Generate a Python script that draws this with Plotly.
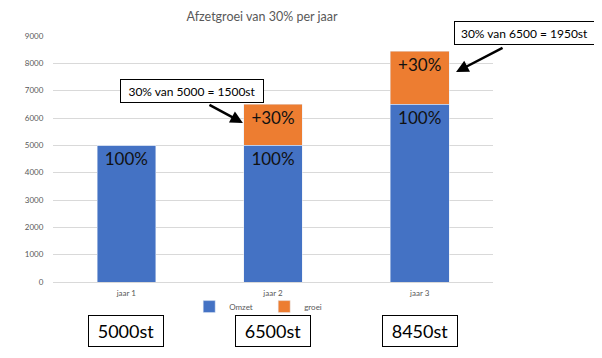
import plotly.graph_objects as go

categories = ["jaar 1", "jaar 2", "jaar 3"]
omzet = [5000, 5000, 6500]
groei = [0, 1500, 1950]
omzet_labels = ["100%", "100%", "100%"]
groei_labels = ["", "+30%", "+30%"]
totals_labels = ["5000st", "6500st", "8450st"]
y_ticks = [0, 1000, 2000, 3000, 4000, 5000, 6000, 7000, 8000, 9000]

BLUE = "#4472C4"
ORANGE = "#ED7D31"
FONT = "Lato"

fig = go.Figure()
fig.add_trace(go.Bar(
    x=categories, y=omzet, name="Omzet", marker_color=BLUE,
    text=omzet_labels, textposition="inside", insidetextanchor="end", textangle=0,
    constraintext="none",
    textfont=dict(family=FONT, size=17, color="#111111"),
))
fig.add_trace(go.Bar(
    x=categories, y=groei, name="groei", marker_color=ORANGE,
    text=groei_labels, textposition="inside", insidetextanchor="end", textangle=0,
    constraintext="none",
    textfont=dict(family=FONT, size=17, color="#111111"),
))

# page body adds an 8px offset; figure occupies 8..602 x 8..358
fig.update_layout(
    barmode="stack",
    bargap=0.6,
    width=594, height=350,
    margin=dict(l=45, r=109, t=28, b=76, autoexpand=False),
    paper_bgcolor="white", plot_bgcolor="white",
    font=dict(family=FONT, color="#595959"),
    title=dict(text="Afzetgroei van 30% per jaar", x=0.475, xref="paper", xanchor="center",
               y=1 - 9 / 350, yref="container", yanchor="middle",
               font=dict(family=FONT, size=12.5, color="#595959")),
    showlegend=True,
    legend=dict(orientation="h", x=0.48, xanchor="center", y=-0.1, yanchor="middle",
                font=dict(family=FONT, size=8, color="#595959"),
                itemwidth=30, entrywidth=30, entrywidthmode="pixels",
                traceorder="normal", bgcolor="rgba(0,0,0,0)"),
    yaxis=dict(range=[0, 9000], tickvals=y_ticks, showgrid=True, gridcolor="#D9D9D9",
               gridwidth=1, zeroline=True, zerolinecolor="#D9D9D9", zerolinewidth=1,
               tickfont=dict(family=FONT, size=8, color="#595959"),
               ticks="outside", ticklen=7, tickcolor="rgba(0,0,0,0)", showline=False),
    xaxis=dict(tickfont=dict(family=FONT, size=8, color="#595959"), showline=False,
               ticks="outside", ticklen=3, tickcolor="rgba(0,0,0,0)",
               range=[-0.5, 2.5], autorange=False),
)

# callout boxes with arrows
box_style = dict(bordercolor="black", borderwidth=1, bgcolor="white", borderpad=3,
                 font=dict(family=FONT, size=12, color="black"), showarrow=False,
                 xanchor="center", yanchor="middle")
fig.add_annotation(x=0.448, y=6970, xref="x", yref="y", text="30% van 5000 = 1500st",
                   width=136, height=16, **box_style)
fig.add_annotation(x=1.0716, y=1.0142, xref="paper", yref="paper",
                   text="30% van 6500 = 1950st", width=133, height=16, **box_style)

arrow_style = dict(showarrow=True, arrowhead=2, arrowsize=1, arrowwidth=2.5,
                   arrowcolor="black", text="", axref="pixel", ayref="pixel")
fig.add_annotation(x=0.795, y=5817, xref="x", yref="y", ax=-35, ay=-19, **arrow_style)
fig.add_annotation(x=2.248, y=7683, xref="x", yref="y", ax=48, ay=-25, **arrow_style)

# total boxes below categories
for i, lab in enumerate(totals_labels):
    fig.add_annotation(x=i, y=-0.199, xref="x", yref="paper", text=lab, showarrow=False,
                       xanchor="center", yanchor="middle",
                       width=70, height=26, borderpad=2, bordercolor="black", borderwidth=1,
                       bgcolor="white", font=dict(family=FONT, size=18, color="black"))

fig.write_html("out.html")
